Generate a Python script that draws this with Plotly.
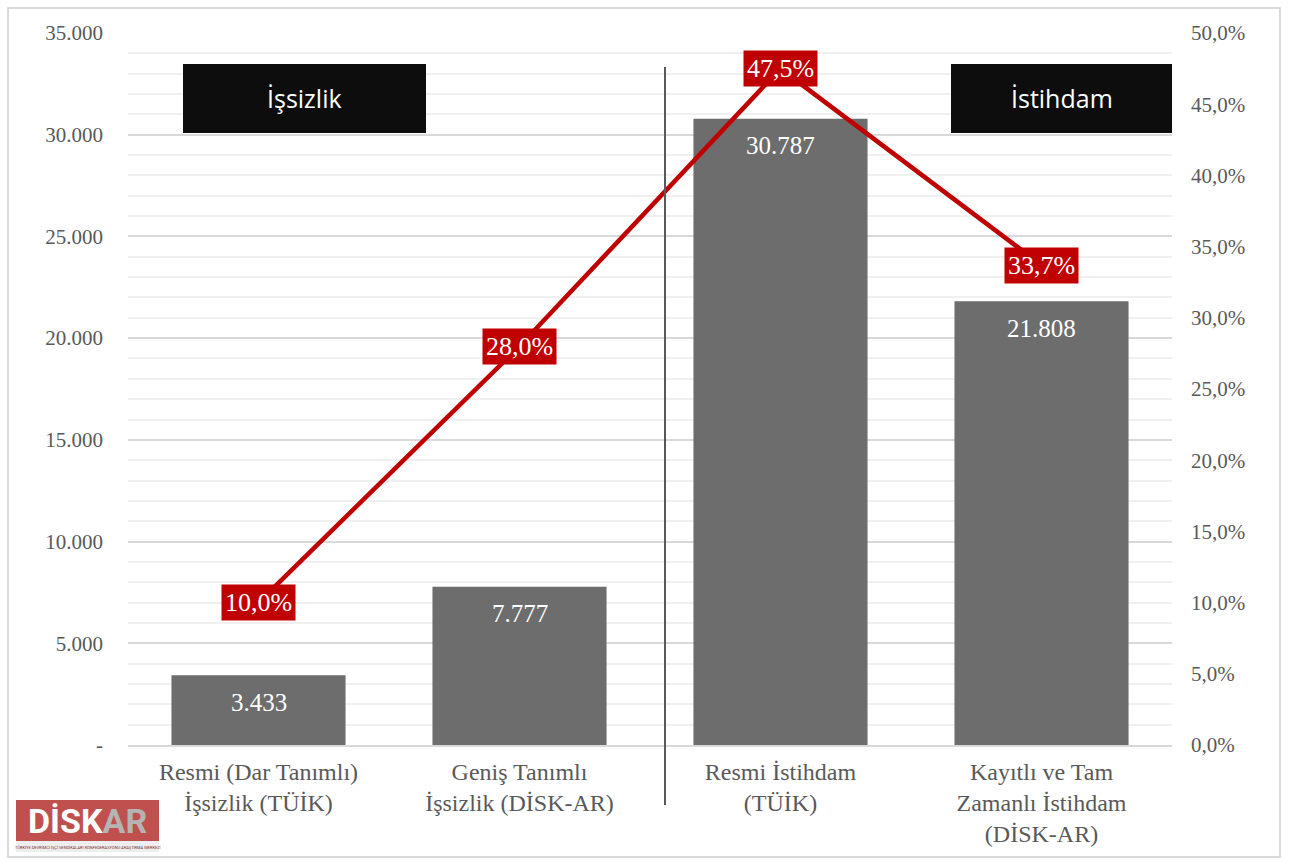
import plotly.graph_objects as go

categories = ["Resmi (Dar Tanımlı)<br>İşsizlik (TÜİK)",
              "Geniş Tanımlı<br>İşsizlik (DİSK-AR)",
              "Resmi İstihdam<br>(TÜİK)",
              "Kayıtlı ve Tam<br>Zamanlı İstihdam<br>(DİSK-AR)"]
counts = [3433, 7777, 30787, 21808]          # bin kişi
rates = [10.0, 28.0, 47.5, 33.7]             # %

left_ticks = [0, 5000, 10000, 15000, 20000, 25000, 30000, 35000]
left_ticktext = ["-", "5.000", "10.000", "15.000", "20.000", "25.000", "30.000", "35.000"]
right_ticks = [0, 5, 10, 15, 20, 25, 30, 35, 40, 45, 50]
right_ticktext = ["0,0%", "5,0%", "10,0%", "15,0%", "20,0%", "25,0%", "30,0%", "35,0%", "40,0%", "45,0%", "50,0%"]

SERIF = "Liberation Serif, DejaVu Serif, serif"
SANS = "Open Sans, Lato, sans-serif"
GREY_TXT = "#595959"
RED = "#c00000"

bar_text = [f"{v:,}".replace(",", ".") for v in counts]
rate_text = [f"{r:.1f}%".replace(".", ",") for r in rates]

fig = go.Figure()
fig.add_trace(go.Bar(
    x=categories, y=counts, width=0.667,
    marker=dict(color="#6d6d6d", line=dict(width=0)),
    hoverinfo="skip", showlegend=False))
fig.add_trace(go.Scatter(
    x=categories, y=rates, yaxis="y2", mode="lines",
    line=dict(color=RED, width=4.5), hoverinfo="skip", showlegend=False))

# bar value labels, just inside the top of each bar
for c, v, t in zip(categories, counts, bar_text):
    fig.add_annotation(x=c, y=v, xref="x", yref="y", text=t, showarrow=False,
                       xanchor="center", yanchor="middle", yshift=-27,
                       font=dict(family=SERIF, size=25, color="white"))

for c, r, t in zip(categories, rates, rate_text):
    fig.add_annotation(x=c, y=r, xref="x", yref="y2", text=t, showarrow=False,
                       bgcolor=RED, borderpad=3, xanchor="center", yanchor="middle",
                       font=dict(family=SERIF, size=26, color="white"))

# plot area geometry (pixels) for paper-coordinate decorations
PL, PR, PT, PB = 128, 1172, 33, 745
def px(x):
    return (x - PL) / (PR - PL)
def py(y):
    return (PB - y) / (PB - PT)

shapes = [
    # outer border
    dict(type="rect", xref="paper", yref="paper", x0=px(8), x1=px(1280), y0=py(857), y1=py(8),
         line=dict(color="#d9d9d9", width=2), layer="below"),
    # divider
    dict(type="line", xref="paper", yref="paper", x0=px(665), x1=px(665), y0=py(805), y1=py(67),
         line=dict(color=GREY_TXT, width=2)),
    # black boxes
    dict(type="rect", xref="paper", yref="paper", x0=px(183), x1=px(426), y0=py(133), y1=py(64),
         fillcolor="#0d0d0d", line=dict(width=0)),
    dict(type="rect", xref="paper", yref="paper", x0=px(951), x1=px(1172), y0=py(133), y1=py(64),
         fillcolor="#0d0d0d", line=dict(width=0)),
    # logo
    dict(type="rect", xref="paper", yref="paper", x0=px(16), x1=px(159), y0=py(841), y1=py(800),
         fillcolor="#c0504d", line=dict(width=0)),
    dict(type="rect", xref="paper", yref="paper", x0=px(16), x1=px(159), y0=py(852), y1=py(841),
         fillcolor="#eeeeee", line=dict(width=0)),
]
fig.update_layout(shapes=shapes)

for cx, cy, txt in [(304.5, 98.5, "İşsizlik"), (1061.5, 98.5, "İstihdam")]:
    fig.add_annotation(xref="paper", yref="paper", x=px(cx), y=py(cy), text=txt,
                       xanchor="center", yanchor="middle", showarrow=False,
                       font=dict(family=SANS, size=25, color="white"))
fig.add_annotation(xref="paper", yref="paper", x=px(87.5), y=py(821),
                   text="<b>DİSK<span style='color:#b4b4b4'>AR</span></b>",
                   xanchor="center", yanchor="middle", showarrow=False,
                   font=dict(family="Roboto, DejaVu Sans, sans-serif", size=34, color="white"))
fig.add_annotation(xref="paper", yref="paper", x=px(87.5), y=py(847),
                   text="TÜRKİYE DEVRİMCİ İŞÇİ SENDİKALARI KONFEDERASYONU ARAŞTIRMA MERKEZİ",
                   xanchor="center", yanchor="middle", showarrow=False,
                   font=dict(family="Roboto, sans-serif", size=4, color="#7a3030"))

fig.update_layout(
    width=1289, height=861,
    margin=dict(l=PL, r=1289 - PR, t=PT, b=861 - PB),
    paper_bgcolor="white", plot_bgcolor="white",
    bargap=0.333,
    xaxis=dict(type="category", showgrid=False, zeroline=False, showline=True,
               linecolor="#d9d9d9", linewidth=2,
               tickfont=dict(family=SERIF, size=24, color=GREY_TXT), ticks="", ticklabelstandoff=4),
    yaxis=dict(range=[0, 35000], tickvals=left_ticks, ticktext=left_ticktext,
               showgrid=True, gridcolor="#d9d9d9", gridwidth=1.5, zeroline=False,
               minor=dict(dtick=1000, showgrid=True, gridcolor="#f0f0f0", gridwidth=1.5),
               tickfont=dict(family=SERIF, size=21, color=GREY_TXT), ticklabelstandoff=24),
    yaxis2=dict(range=[0, 50], overlaying="y", side="right", tickvals=right_ticks, ticktext=right_ticktext,
                showgrid=False, zeroline=False,
                tickfont=dict(family=SERIF, size=21, color=GREY_TXT), ticklabelstandoff=18),
)

fig.write_html("out.html", config={"displayModeBar": False},
               post_script="document.body.style.margin='0';")
